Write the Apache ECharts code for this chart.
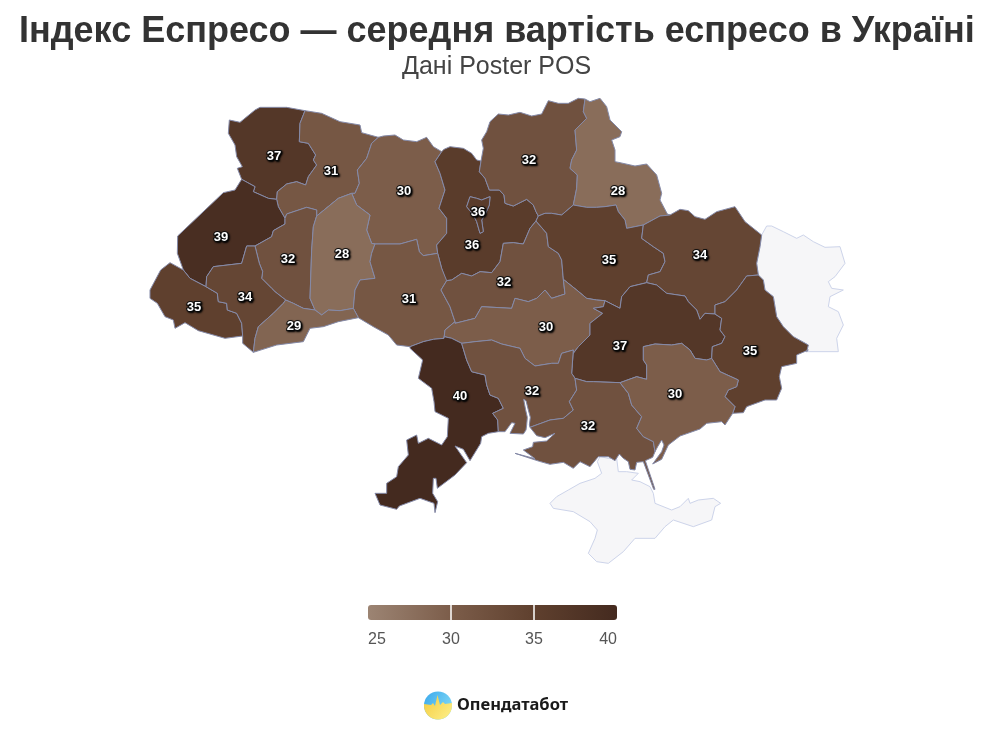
<!DOCTYPE html>
<html>
<head>
<meta charset="utf-8">
<title>Індекс Еспресо</title>
<script src="https://cdn.jsdelivr.net/npm/echarts@6/dist/echarts.min.js"></script>
<style>
html, body { margin: 0; padding: 0; background: #fff; }
#main { width: 1003px; height: 737px; }
</style>
</head>
<body>
<div id="main"></div>
<script>
// значення індексу по областях
var regionNames = ['Волинська', 'Рівненська', 'Житомирська', 'м. Київ', 'Київська', 'Чернігівська', 'Сумська', 'Львівська', 'Тернопільська', 'Хмельницька', 'Вінницька', 'Черкаська', 'Полтавська', 'Харківська', 'Закарпатська', 'Івано-Франківська', 'Чернівецька', 'Кіровоградська', 'Дніпропетровська', 'Донецька', 'Одеська', 'Миколаївська', 'Херсонська', 'Запорізька'];
var espressoPrices = [37, 31, 30, 36, 36, 32, 28, 39, 32, 28, 31, 32, 35, 34, 35, 34, 29, 30, 37, 35, 40, 32, 32, 30];
var noDataRegions = ['Луганська', 'АР Крим'];
var scaleTicks = [25, 30, 35, 40];
var scaleColors = ['#9c8473', '#7c5d4a', '#5f402e', '#442a1f'];

// контури обведені з картинки: три фрагменти зі своїм зсувом
function z1(p) { return p.map(function (q) { return [140 + q[0] / 3, 90 + q[1] / 3]; }); }
function z2(p) { return p.map(function (q) { return [430 + q[0] / 3, 90 + q[1] / 3]; }); }
function z3(p) { return p.map(function (q) { return [360 + q[0] / 3, 330 + q[1] / 3]; }); }

var arcs = {
  volOut: z1([[305,268],[292,235],[307,230],[290,200],[285,165],[265,130],[268,90],[300,97],[345,60],[360,52],[440,52],[495,62]]),
  volRiv: z1([[495,62],[480,100],[478,155],[505,160],[527,195],[520,210],[530,225],[505,260],[497,285],[470,275],[440,282],[412,305],[410,328]]),
  volLvi: z1([[410,328],[385,325],[340,305],[345,290],[305,268]]),
  rivOut: z1([[495,62],[545,70],[600,95],[660,105],[665,128],[715,142]]),
  rivZhy: z1([[715,142],[695,160],[680,205],[652,240],[658,280],[645,310],[635,310]]),
  rivKhm: z1([[635,310],[595,325],[540,370],[530,378]]),
  rivTer: z1([[530,378],[530,360],[500,352],[440,372],[435,385]]),
  rivLvi: z1([[435,385],[415,350],[410,328]]),
  lviTer: z1([[435,385],[435,402],[400,422],[395,440],[345,468]]),
  lviIf: z1([[345,468],[320,468],[305,520],[220,530],[200,560],[198,590]]),
  lviZak: z1([[198,590],[150,565],[130,540]]),
  lviOut: z1([[130,540],[112,490],[113,438],[250,308],[285,300],[305,268]]),
  zakOut: z1([[130,540],[90,518],[62,540],[30,600],[30,625],[52,640],[75,680],[100,690],[105,715],[135,698],[175,722],[255,745],[308,738]]),
  zakIf: z1([[198,590],[232,610],[235,635],[260,640],[262,660],[290,670],[305,700],[308,738]]),
  ifOut: z1([[308,738],[308,760],[340,787]]),
  ifChe: z1([[340,787],[345,745],[355,710],[400,670],[430,640],[437,630]]),
  ifTer: z1([[437,630],[405,605],[395,595],[365,565],[368,545],[358,520],[345,468]]),
  terChe: z1([[437,630],[460,640],[490,655],[525,660]]),
  terKhm: z1([[525,660],[510,625],[515,480],[520,410],[530,378]]),
  cheOut: z1([[340,787],[410,765],[490,755],[510,715],[550,710],[595,695],[655,683]]),
  cheVin: z1([[655,683],[640,655]]),
  cheKhm: z1([[640,655],[600,662],[565,660],[545,675],[525,660]]),
  khmZhy: z1([[635,310],[650,345],[690,375],[680,420],[695,460],[705,462]]),
  khmVin: z1([[705,462],[695,490],[690,515],[705,565],[660,570],[645,600],[640,655]]),
  zhyOut: z1([[715,142],[730,138],[765,135],[790,150],[830,155],[860,142],[880,170],[905,185]]),
  zhyKyi: z1([[905,185],[885,215],[900,250],[915,300],[897,355],[920,385],[920,430],[890,465],[893,490]]),
  zhyVin: z1([[893,490],[850,497],[838,485],[830,448],[780,462],[705,462]]),
  vinKyi: z1([[893,490],[905,535],[920,572]]),
  vinChk: z1([[920,572],[903,600],[930,650],[945,695]]),
  vinKir: z1([[945,695],[915,720],[912,745]]),
  vinOde: z1([[912,745],[880,748],[850,755],[810,770]]),
  vinOut: z1([[810,770],[770,765],[745,735],[700,710],[655,683]]),

  kyiOut: z2([[35,185],[42,178],[60,170],[100,175],[125,190],[140,210],[153,213]]),
  kyiChn: z2([[153,213],[148,245],[165,265],[178,300],[208,300],[222,315],[225,340],[250,348],[290,328],[310,345],[318,365],[325,378]]),
  kyiPol: z2([[325,378],[318,393]]),
  kyiChk: z2([[318,393],[300,415],[280,462],[250,458],[220,460],[210,515],[185,548],[150,545],[125,558],[95,550],[65,570],[47,572]]),
  chnOut: z2([[153,213],[160,175],[155,150],[170,125],[180,95],[205,72],[235,75],[270,67],[305,78],[335,72],[355,32],[385,40],[415,40],[445,25],[465,27]]),
  chnSum: z2([[465,27],[460,65],[470,85],[435,120],[440,180],[425,210],[420,235],[442,255],[440,295],[430,345]]),
  chnPol: z2([[430,345],[395,375],[365,370],[345,370],[325,378]]),
  sumOut: z2([[465,27],[480,35],[510,25],[530,50],[540,90],[575,125],[570,140],[545,150],[555,180],[555,215],[570,218],[615,228],[650,222],[680,255],[695,310],[690,330],[712,372],[720,375]]),
  sumKha: z2([[720,375],[690,378],[640,405]]),
  sumPol: z2([[640,405],[590,415],[585,390],[565,365],[558,345],[525,350],[500,352],[470,352],[430,345]]),
  polKha: z2([[640,405],[635,445],[670,470],[700,490],[705,515],[690,545],[655,555],[650,578]]),
  polDni: z2([[650,578],[600,590],[575,620],[570,655],[525,632]]),
  polKir: z2([[525,632],[500,630],[470,625],[440,600],[400,568]]),
  polChk: z2([[400,568],[395,510],[385,490],[355,470],[350,430],[318,393]]),
  chkKir: z2([[400,568],[405,612],[365,625],[345,600],[320,625],[295,635],[255,625],[245,655],[155,650],[135,685],[75,700]]),
  kirOde: z2([[43,740],[65,745],[105,765]]),
  kirDni: z2([[430,790],[445,770],[480,735],[480,700],[518,670],[490,655],[520,650],[525,632]]),
  dniKha: z2([[650,578],[680,585],[710,610],[765,618],[775,635],[800,660],[810,688],[825,670],[855,672]]),
  dniDon: z2([[855,672],[875,685],[870,720],[885,740],[875,760],[847,770],[845,806]]),
  khaOut: z2([[720,375],[750,358],[775,362],[795,380],[825,388],[860,365],[915,350],[945,395],[995,435]]),
  khaLuh: z2([[995,435],[990,470],[980,520],[985,555]]),
  khaDon: z2([[985,555],[950,558],[920,600],[885,635],[855,645],[855,672]]),
  donLuh: z2([[985,555],[1000,570],[1005,600],[1030,620],[1040,680],[1060,710],[1090,740],[1135,765],[1130,785]]),
  luhOut: z2([[995,435],[1010,408],[1025,408],[1060,425],[1100,445],[1120,435],[1150,455],[1185,472],[1230,470],[1245,520],[1215,560],[1195,575],[1205,595],[1240,600],[1200,620],[1195,650],[1225,665],[1240,705],[1220,745],[1225,785],[1130,785]]),

  kirMyk: z3([[305,40],[345,35],[395,30],[425,42],[480,55],[495,85],[525,108],[575,100],[595,100],[605,70],[640,60]]),
  odeMyk: z3([[305,40],[320,90],[335,125],[375,135],[380,165],[390,195],[415,205],[430,235],[398,250],[413,270],[415,305]]),
  odeOut: z3([[415,305],[385,310],[365,320],[362,340],[330,392],[310,358],[285,348],[320,398],[285,435],[232,475],[228,445],[220,445],[218,490],[233,515],[225,548],[222,520],[180,505],[118,528],[110,538],[60,525],[45,490],[80,490],[80,460],[110,440],[115,410],[145,375],[140,330],[170,315],[175,340],[205,325],[245,345],[262,320],[265,265],[225,245],[222,215],[215,175],[175,145],[188,90],[150,55]]),
  mykDni: z3([[640,60],[635,130],[645,145]]),
  mykKhe: z3([[645,145],[650,180],[628,215],[640,240],[610,265],[570,270],[510,292]]),
  mykCoast: z3([[415,305],[435,305],[455,278],[465,280],[450,310],[490,312],[498,300],[500,285],[502,262],[497,240],[491,208],[498,212],[505,240],[511,262],[508,285],[510,292]]),
  kheDni: z3([[645,145],[680,155],[700,155],[780,158]]),
  zapKhe: z3([[780,158],[805,190],[815,225],[845,260],[830,295],[850,320],[880,335],[885,365]]),
  kheCoast: z3([[885,365],[878,382],[856,392],[885,478],[881,478],[850,395],[830,397],[825,420],[810,418],[805,395],[790,385],[778,372],[765,392],[745,380],[715,380],[690,410],[660,395],[640,415],[610,397],[570,403],[538,394],[465,370],[525,386],[490,360],[518,350],[520,337],[560,333],[585,310],[555,323],[530,317],[510,292]]),
  dniZap: z3([[780,158],[830,140],[860,148],[860,105],[850,90],[850,50],[885,42],[935,45],[965,40],[990,60],[1005,85],[1040,90],[1055,85]]),
  donOut: z3([[1345,60],[1310,75],[1310,100],[1265,110],[1258,140],[1265,175],[1250,210],[1215,210],[1160,230],[1150,248],[1118,250]]),
  donZap: z3([[1118,250],[1125,230],[1095,200],[1105,180],[1130,170],[1135,150],[1080,125],[1055,85]]),
  zapCoast: z3([[885,365],[893,350],[905,330],[912,345],[905,365],[878,402],[905,388],[925,345],[960,318],[1020,297],[1040,280],[1085,275],[1095,285],[1118,250]])
};

var kyivCity = z2([[120,320],[140,325],[155,330],[180,320],[178,345],[165,375],[155,390],[160,425],[150,430],[140,395],[130,375],[110,350]]);
var crimea = z3([[712,395],[725,430],[705,445],[660,460],[625,480],[590,500],[570,520],[580,535],[640,545],[690,575],[712,600],[705,625],[685,670],[710,695],[745,700],[790,665],[825,625],[885,625],[915,590],[940,570],[1000,590],[1055,570],[1065,530],[1082,520],[1060,505],[1015,510],[990,520],[985,505],[960,530],[935,540],[885,520],[880,490],[870,470],[840,455],[815,450],[835,430],[800,425],[775,425],[770,385],[745,385],[720,380]]);

// склейка контуру області зі спільних меж, "-" значить у зворотному напрямку
function ring(list) {
  var out = [];
  list.split(' ').forEach(function (n) {
    var pts = n[0] === '-' ? arcs[n.slice(1)].slice().reverse() : arcs[n];
    out = out.concat(pts);
  });
  out.push(out[0]);
  return out;
}
function closed(p) { return p.concat([p[0]]); }

var shapes = {
  'Луганська': { rings: [ring('luhOut -donLuh -khaLuh')], cp: [800, 290] },
  'АР Крим': { rings: [closed(crimea)], cp: [640, 510] },
  'Волинська': { rings: [ring('volOut volRiv volLvi')], cp: [274, 155] },
  'Рівненська': { rings: [ring('rivOut rivZhy rivKhm rivTer rivLvi -volRiv')], cp: [331, 170] },
  'Житомирська': { rings: [ring('zhyOut zhyKyi zhyVin -khmZhy -rivZhy')], cp: [404, 190] },
  'Київська': { rings: [ring('kyiOut kyiChn kyiPol kyiChk -vinKyi -zhyKyi'), closed(kyivCity)], cp: [472, 244] },
  'м. Київ': { rings: [closed(kyivCity)], cp: [478, 211] },
  'Чернігівська': { rings: [ring('chnOut chnSum chnPol -kyiChn')], cp: [529, 159] },
  'Сумська': { rings: [ring('sumOut sumKha sumPol -chnSum')], cp: [618, 190] },
  'Львівська': { rings: [ring('-rivLvi lviTer lviIf lviZak lviOut -volLvi')], cp: [221, 236] },
  'Тернопільська': { rings: [ring('lviTer -ifTer terChe terKhm rivTer')], cp: [288, 258] },
  'Хмельницька': { rings: [ring('khmZhy khmVin cheKhm terKhm -rivKhm')], cp: [342, 253] },
  'Вінницька': { rings: [ring('-zhyVin vinKyi vinChk vinKir vinOde vinOut cheVin -khmVin')], cp: [409, 298] },
  'Черкаська': { rings: [ring('-polChk chkKir -vinChk -kyiChk')], cp: [504, 281] },
  'Полтавська': { rings: [ring('-chnPol -sumPol polKha polDni polKir polChk -kyiPol')], cp: [609, 259] },
  'Харківська': { rings: [ring('khaOut khaLuh khaDon -dniKha -polKha -sumKha')], cp: [700, 254] },
  'Закарпатська': { rings: [ring('-lviZak zakIf -zakOut')], cp: [194, 306] },
  'Івано-Франківська': { rings: [ring('lviIf zakIf ifOut ifChe ifTer')], cp: [245, 296] },
  'Чернівецька': { rings: [ring('cheOut cheVin cheKhm -terChe -ifChe')], cp: [294, 325] },
  'Кіровоградська': { rings: [ring('-chkKir -polKir -kirDni -kirMyk -kirOde -vinKir')], cp: [546, 326] },
  'Дніпропетровська': { rings: [ring('dniKha dniDon -dniZap -kheDni -mykDni kirDni -polDni')], cp: [620, 345] },
  'Донецька': { rings: [ring('donLuh donOut donZap -dniDon -khaDon')], cp: [750, 350] },
  'Одеська': { rings: [ring('-vinOde kirOde odeMyk odeOut')], cp: [460, 395] },
  'Миколаївська': { rings: [ring('kirMyk mykDni mykKhe -mykCoast -odeMyk')], cp: [532, 390] },
  'Херсонська': { rings: [ring('kheDni zapKhe kheCoast -mykKhe')], cp: [588, 425] },
  'Запорізька': { rings: [ring('dniZap -donZap -zapCoast -zapKhe')], cp: [675, 393] }
};

var features = Object.keys(shapes).map(function (name) {
  return {
    type: 'Feature',
    properties: { name: name, cp: shapes[name].cp },
    geometry: { type: 'Polygon', coordinates: shapes[name].rings }
  };
});
echarts.registerMap('ukraine', { type: 'FeatureCollection', features: features });

var myChart = echarts.init(document.getElementById('main'), null, { renderer: 'canvas' });
var fontName = '"Liberation Sans", Arial, sans-serif';

// жовта частина логотипа: верхній край пульс, нижній дуга кола
var logoPulse = [[424, 704], [431, 705], [433, 703], [435, 706], [437.5, 695], [440, 705], [443, 702], [445, 704], [452, 703]];
var logoYellow = logoPulse.slice();
for (var a = 5; a <= 175; a += 10) {
  logoYellow.push([438 + 14 * Math.cos(a * Math.PI / 180), 705.5 + 14 * Math.sin(a * Math.PI / 180)]);
}

myChart.setOption({
  animation: false,
  backgroundColor: '#fff',
  title: [
    { text: 'Індекс Еспресо — середня вартість еспресо в Україні', left: 14, top: 9, textStyle: { fontFamily: fontName, fontSize: 36, fontWeight: 'bold', color: '#333' } },
    { text: 'Дані Poster POS', left: 397, top: 50, textStyle: { fontFamily: fontName, fontSize: 25, fontWeight: 'normal', color: '#444' } }
  ],
  visualMap: {
    show: false,
    type: 'continuous',
    seriesIndex: 0,
    min: scaleTicks[0],
    max: scaleTicks[scaleTicks.length - 1],
    inRange: { color: scaleColors }
  },
  // шкала легенди
  grid: { left: 368, top: 605, width: 249, height: 15 },
  xAxis: {
    type: 'value',
    min: scaleTicks[0],
    max: scaleTicks[scaleTicks.length - 1],
    interval: 5,
    z: 5,
    axisLine: { show: false },
    splitLine: { show: false },
    axisTick: { show: true, inside: true, length: 15, customValues: [scaleTicks[1], scaleTicks[2]], lineStyle: { color: '#fff', width: 1.5 } },
    axisLabel: { color: '#555', fontFamily: fontName, fontSize: 16, margin: 12, alignMinLabel: 'left', alignMaxLabel: 'right' }
  },
  yAxis: { type: 'category', data: [''], show: false },
  series: [
    {
      type: 'map',
      map: 'ukraine',
      projection: {
        project: function (p) { return p; },
        unproject: function (p) { return p; }
      },
      boundingCoords: [[0, 0], [1003, 737]],
      left: 0,
      top: 0,
      width: 1003,
      height: 737,
      roam: false,
      selectedMode: false,
      itemStyle: { areaColor: '#f6f6f8', borderColor: '#cdd4ea', borderWidth: 1 },
      emphasis: { disabled: true },
      label: {
        show: true,
        offset: [0, 1],
        fontFamily: fontName,
        fontSize: 13,
        fontWeight: 'bold',
        color: '#fff',
        textBorderColor: '#111',
        textBorderWidth: 2,
        textShadowColor: '#000',
        textShadowBlur: 2,
        textShadowOffsetX: 1,
        textShadowOffsetY: 1,
        formatter: function (p) { return isNaN(p.value) ? '' : p.value; }
      },
      data: regionNames.map(function (n, i) {
        return { name: n, value: espressoPrices[i], itemStyle: { borderColor: '#858aa8' } };
      }).concat(noDataRegions.map(function (n) { return { name: n, value: NaN }; }))
    },
    {
      type: 'bar',
      silent: true,
      barWidth: 15,
      data: [scaleTicks[scaleTicks.length - 1]],
      itemStyle: {
        borderRadius: 3,
        color: new echarts.graphic.LinearGradient(0, 0, 1, 0, scaleColors.map(function (c, i) {
          return { offset: i / (scaleColors.length - 1), color: c };
        }))
      }
    }
  ],
  graphic: [
    {
      type: 'circle',
      shape: { cx: 438, cy: 705.5, r: 14 },
      style: {
        fill: new echarts.graphic.LinearGradient(0, 0, 1, 0.6, [
          { offset: 0, color: '#3aa8ec' },
          { offset: 1, color: '#7fd8f5' }
        ])
      }
    },
    {
      type: 'polygon',
      shape: { points: logoYellow },
      style: {
        fill: new echarts.graphic.LinearGradient(0, 0, 1, 1, [
          { offset: 0, color: '#f4cb3e' },
          { offset: 1, color: '#fdf08a' }
        ])
      }
    },
    {
      type: 'text',
      style: { x: 457, y: 705, text: 'Опендатабот', font: 'bold 16.5px "Noto Sans", sans-serif', fill: '#1a1a1a', textVerticalAlign: 'middle', textBaseline: 'middle' }
    }
  ]
});
</script>
</body>
</html>
